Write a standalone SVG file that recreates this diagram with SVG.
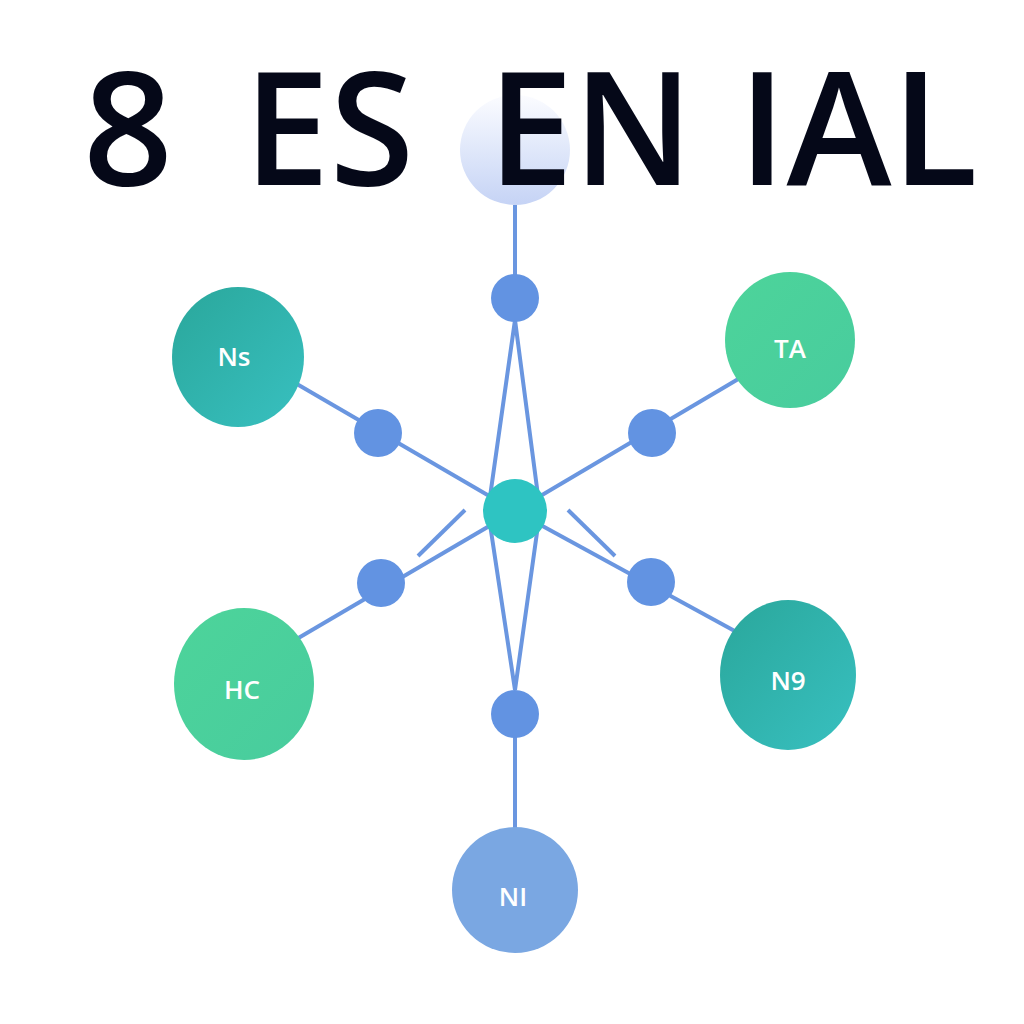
<svg xmlns="http://www.w3.org/2000/svg" width="1024" height="1024" viewBox="0 0 1024 1024">
<style>
.t{font-family:"Open Sans","Liberation Sans",sans-serif;font-weight:600;font-size:158px;fill:#050818}
.l{font-family:"Open Sans","Liberation Sans",sans-serif;font-weight:600;font-size:26px;fill:#fff;text-anchor:middle}
.c{stroke:#6a96e0;stroke-width:4;fill:none}
.d{fill:#6293e2}
</style>
<defs>
<linearGradient id="top" x1="0" y1="0" x2="0" y2="1"><stop offset="0" stop-color="#fbfcff"/><stop offset="1" stop-color="#c5d3f5"/></linearGradient>
<linearGradient id="teal" x1="0" y1="0" x2="1" y2="1"><stop offset="0" stop-color="#2aa79b"/><stop offset="1" stop-color="#38c0c0"/></linearGradient>
<linearGradient id="grn" x1="0" y1="0" x2="1" y2="1"><stop offset="0" stop-color="#4dd49a"/><stop offset="1" stop-color="#48cc9e"/></linearGradient>
</defs>
<rect width="1024" height="1024" fill="#fff"/>
<g id="top-node"><circle cx="515" cy="150" r="55" fill="url(#top)"/></g>
<g id="title">
<text class="t" x="83" y="185" textLength="90" lengthAdjust="spacingAndGlyphs">8</text>
<text class="t" x="244" y="185" textLength="170" lengthAdjust="spacingAndGlyphs">ES</text>
<text class="t" x="488" y="185" textLength="205" lengthAdjust="spacingAndGlyphs">EN</text>
<text class="t" x="738" y="185" textLength="240" lengthAdjust="spacingAndGlyphs">IAL</text>
</g>
<g id="connectors">
<line class="c" x1="515" y1="205" x2="515" y2="298"/>
<line class="c" x1="515" y1="714" x2="515" y2="828"/>
<polyline class="c" points="515,320 488,511 515,690 540,511 515,320"/>
<line class="c" x1="290" y1="380" x2="515" y2="511"/>
<line class="c" x1="740" y1="378" x2="515" y2="511"/>
<line class="c" x1="295" y1="640" x2="515" y2="511"/>
<line class="c" x1="742" y1="635" x2="515" y2="511"/>
<line class="c" x1="465" y1="510" x2="418" y2="556"/>
<line class="c" x1="568" y1="510" x2="615" y2="556"/>
</g>
<g id="dots">
<circle class="d" cx="515" cy="298" r="24"/>
<circle class="d" cx="378" cy="433" r="24"/>
<circle class="d" cx="652" cy="433" r="24"/>
<circle class="d" cx="381" cy="583" r="24"/>
<circle class="d" cx="651" cy="582" r="24"/>
<circle class="d" cx="515" cy="714" r="24"/>
</g>
<g id="center"><circle cx="515" cy="511" r="32" fill="#2ec4c2"/></g>
<g id="Ns"><ellipse cx="238" cy="357" rx="66" ry="70" fill="url(#teal)"/><text class="l" x="234" y="366">Ns</text></g>
<g id="TA"><ellipse cx="790" cy="340" rx="65" ry="68" fill="url(#grn)"/><text class="l" x="790" y="358">TA</text></g>
<g id="HC"><ellipse cx="244" cy="684" rx="70" ry="76" fill="url(#grn)"/><text class="l" x="242" y="699">HC</text></g>
<g id="N9"><ellipse cx="788" cy="675" rx="68" ry="75" fill="url(#teal)"/><text class="l" x="788" y="690">N9</text></g>
<g id="NI"><circle cx="515" cy="890" r="63" fill="#7aa7e2"/><text class="l" x="513" y="906">NI</text></g>
</svg>
